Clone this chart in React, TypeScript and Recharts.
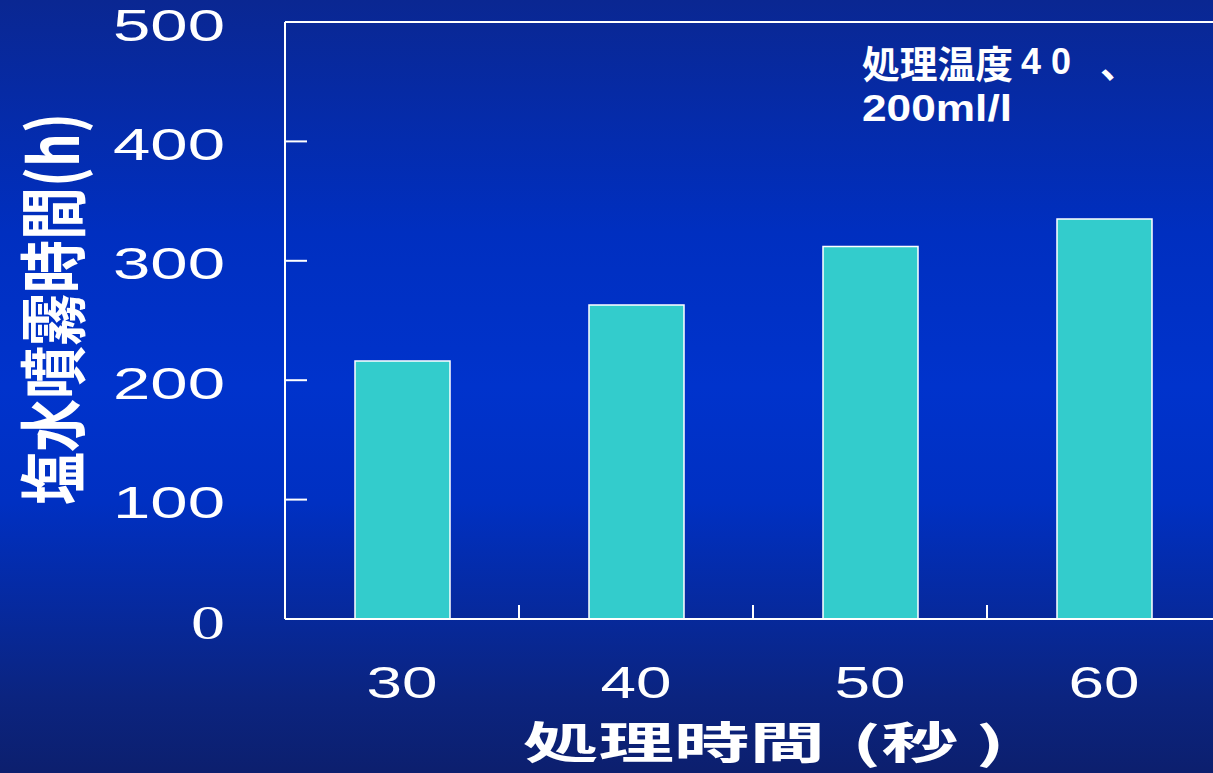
import { BarChart, Bar, XAxis, YAxis, ReferenceLine } from 'recharts';

// 塩水噴霧時間 vs 処理時間
const categories = ['30', '40', '50', '60'];
const hours = [216, 263, 312, 335];
const yTicks = [0, 100, 200, 300, 400, 500];
const yMax = 500;

const data = categories.map((time, i) => ({ time, hours: hours[i] }));

const WIDTH = 1213;
const HEIGHT = 773;
const CHART_WIDTH = 1230;
const Y_AXIS_WIDTH = 285;
const MARGIN = { top: 22, right: 9, bottom: 0, left: 0 };
const HALF_BAND =
  (CHART_WIDTH - MARGIN.right - Y_AXIS_WIDTH) / categories.length / 2;

const LATIN = '"Liberation Sans", Arial, sans-serif';
const CJK = '"Noto Sans CJK JP", "Noto Sans CJK SC", sans-serif';

// y ticks: inward tick mark + stretched label on the left
const YTick = (props: any) => {
  const { x, y, payload } = props;
  const zero = payload.value === 0;
  return (
    <g>
      <line x1={x} x2={x + 22} y1={y} y2={y} stroke="#fff" strokeWidth={2} />
      <text
        x={x - 60}
        y={y + 3}
        textAnchor="end"
        dominantBaseline="central"
        fill="#fff"
        fontFamily={zero ? '"Liberation Serif", serif' : LATIN}
        fontSize={zero ? 48 : 45}
        textLength={zero ? 34 : 112}
        lengthAdjust="spacingAndGlyphs"
      >
        {payload.value}
      </text>
    </g>
  );
};

// x ticks: label under the band, short inward mark on the band boundary
const XTick = (props: any) => {
  const { x, y, payload, index } = props;
  return (
    <g>
      {index < categories.length - 1 && (
        <line
          x1={x + HALF_BAND}
          x2={x + HALF_BAND}
          y1={y - 14}
          y2={y}
          stroke="#fff"
          strokeWidth={2}
        />
      )}
      <text
        x={x}
        y={y + 63}
        textAnchor="middle"
        dominantBaseline="central"
        fill="#fff"
        fontFamily={LATIN}
        fontSize={44}
        textLength={71}
        lengthAdjust="spacingAndGlyphs"
      >
        {payload.value}
      </text>
    </g>
  );
};

export default function App() {
  return (
    <div
      style={{
        position: 'absolute',
        left: 0,
        top: 0,
        width: WIDTH,
        height: HEIGHT,
        overflow: 'hidden',
        background:
          'linear-gradient(to bottom, #0a2792 0%, #002fc0 30%, #0033cc 50%, #0030c2 65%, #0b2480 90%, #0c1f6e 100%)',
      }}
    >
      <BarChart width={CHART_WIDTH} height={HEIGHT} data={data} margin={MARGIN}>
        <XAxis
          dataKey="time"
          height={154}
          tickSize={0}
          tickMargin={0}
          tickLine={false}
          axisLine={{ stroke: '#fff', strokeWidth: 2 }}
          tick={<XTick />}
        />
        <YAxis
          width={Y_AXIS_WIDTH}
          domain={[0, yMax]}
          ticks={yTicks}
          interval={0}
          tickSize={0}
          tickMargin={0}
          tickLine={false}
          axisLine={{ stroke: '#fff', strokeWidth: 2 }}
          tick={<YTick />}
        />
        {/* frame top edge */}
        <ReferenceLine y={yMax} stroke="#fff" strokeWidth={2} />
        <Bar
          dataKey="hours"
          barSize={95}
          fill="#33CCCC"
          stroke="#fff"
          strokeWidth={1.5}
          isAnimationActive={false}
        />
      </BarChart>

      <svg
        width={WIDTH}
        height={HEIGHT}
        style={{ position: 'absolute', left: 0, top: 0, pointerEvents: 'none' }}
      >
        {/* axis titles */}
        <text
          transform="translate(49, 309) rotate(-90)"
          textAnchor="middle"
          dominantBaseline="central"
          fill="#fff"
          fontFamily={CJK}
          fontWeight={700}
          fontSize={68}
          textLength={392}
          lengthAdjust="spacingAndGlyphs"
        >
          塩水噴霧時間(h)
        </text>
        <text
          x={523}
          y={740}
          dominantBaseline="central"
          fill="#fff"
          fontFamily={CJK}
          fontWeight={700}
          fontSize={44}
          textLength={302}
          lengthAdjust="spacingAndGlyphs"
        >
          処理時間
        </text>
        <text
          x={852}
          y={740}
          dominantBaseline="central"
          fill="#fff"
          fontFamily={CJK}
          fontWeight={700}
          fontSize={44}
          textLength={153}
          lengthAdjust="spacingAndGlyphs"
        >
          (秒 )
        </text>

        {/* treatment conditions */}
        <text
          x={862}
          y={61}
          dominantBaseline="central"
          fill="#fff"
          fontFamily={CJK}
          fontWeight={700}
          fontSize={38}
          textLength={151}
          lengthAdjust="spacingAndGlyphs"
        >
          処理温度
        </text>
        <text
          x={1021}
          y={74}
          fill="#fff"
          fontFamily={LATIN}
          fontWeight={700}
          fontSize={37}
          textLength={50}
          lengthAdjust="spacingAndGlyphs"
        >
          4 0
        </text>
        <text
          x={1100}
          y={61}
          dominantBaseline="central"
          fill="#fff"
          fontFamily={CJK}
          fontWeight={700}
          fontSize={38}
        >
          、
        </text>
        <text
          x={862}
          y={121}
          fill="#fff"
          fontFamily={LATIN}
          fontWeight={700}
          fontSize={36}
          textLength={150}
          lengthAdjust="spacingAndGlyphs"
        >
          200ml/l
        </text>
      </svg>
    </div>
  );
}
